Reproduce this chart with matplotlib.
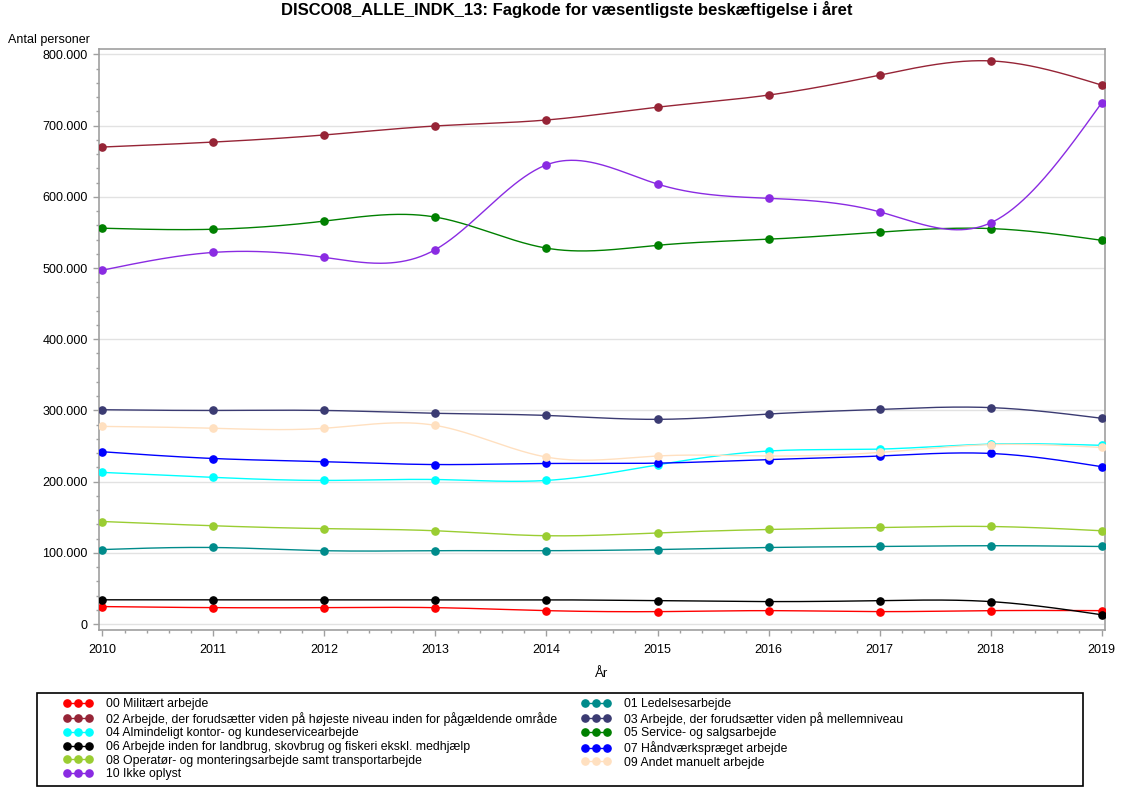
import numpy as np
import matplotlib
matplotlib.use("Agg")
import matplotlib.pyplot as plt
from matplotlib.lines import Line2D
from matplotlib.patches import Rectangle
from matplotlib.ticker import MultipleLocator, FuncFormatter

plt.rcParams['font.family'] = ['Liberation Sans', 'DejaVu Sans']

years = [2010, 2011, 2012, 2013, 2014, 2015, 2016, 2017, 2018, 2019]

labels = [
    "00 Militært arbejde",
    "01 Ledelsesarbejde",
    "02 Arbejde, der forudsætter viden på højeste niveau inden for pågældende område",
    "03 Arbejde, der forudsætter viden på mellemniveau",
    "04 Almindeligt kontor- og kundeservicearbejde",
    "05 Service- og salgsarbejde",
    "06 Arbejde inden for landbrug, skovbrug og fiskeri ekskl. medhjælp",
    "07 Håndværkspræget arbejde",
    "08 Operatør- og monteringsarbejde samt transportarbejde",
    "09 Andet manuelt arbejde",
    "10 Ikke oplyst",
]

colors = ["#FF0000", "#008B8B", "#962436", "#3B3B72", "#00FFFF", "#008000",
          "#000000", "#0000FF", "#9ACD32", "#FFE0C0", "#8A2BE2"]

s00 = [24500, 23000, 23000, 23000, 18800, 17400, 18800, 17400, 18800, 18800]
s01 = [104600, 107500, 103000, 103000, 103000, 104600, 107500, 108900, 110000, 108900]
s02 = [670000, 677000, 687000, 699600, 708000, 726000, 743000, 771000, 791000, 757000]
s03 = [301000, 300000, 300000, 296000, 293000, 287500, 295000, 301500, 304000, 289000]
s04 = [213000, 206000, 201700, 203000, 201700, 223500, 243000, 245700, 252700, 251000]
s05 = [556000, 554500, 566000, 571600, 528000, 532000, 540500, 550500, 555500, 539000]
s06 = [34000, 34000, 34000, 34000, 34000, 32800, 31500, 32800, 31500, 13000]
s07 = [242000, 232500, 228000, 224000, 225500, 226000, 231000, 236000, 239600, 221000]
s08 = [144000, 138000, 134000, 131000, 124000, 128000, 132800, 135600, 137000, 131000]
s09 = [277600, 275000, 275000, 279000, 234500, 236000, 236000, 241000, 252000, 248000]
s10 = [497000, 522000, 515000, 526000, 645000, 618000, 598000, 579000, 563500, 732000]

series = [s00, s01, s02, s03, s04, s05, s06, s07, s08, s09, s10]


def natural_spline(x, y, xs):
    x = np.asarray(x, float)
    y = np.asarray(y, float)
    n = len(x)
    h = np.diff(x)
    A = np.zeros((n, n))
    b = np.zeros(n)
    A[0, 0] = 1.0
    A[-1, -1] = 1.0
    for i in range(1, n - 1):
        A[i, i - 1] = h[i - 1]
        A[i, i] = 2 * (h[i - 1] + h[i])
        A[i, i + 1] = h[i]
        b[i] = 6 * ((y[i + 1] - y[i]) / h[i] - (y[i] - y[i - 1]) / h[i - 1])
    M = np.linalg.solve(A, b)
    idx = np.clip(np.searchsorted(x, xs) - 1, 0, n - 2)
    x0, x1 = x[idx], x[idx + 1]
    hh = x1 - x0
    t0 = x1 - xs
    t1 = xs - x0
    return (M[idx] * t0 ** 3 / (6 * hh) + M[idx + 1] * t1 ** 3 / (6 * hh)
            + (y[idx] / hh - M[idx] * hh / 6) * t0
            + (y[idx + 1] / hh - M[idx + 1] * hh / 6) * t1)


W, H = 1122, 793
fig = plt.figure(figsize=(W / 100, H / 100), dpi=100)
ax = fig.add_axes([99 / W, 1 - 630 / H, (1105 - 99) / W, (630 - 49.3) / H])

xs = np.linspace(years[0], years[-1], 600)
for vals, c in zip(series, colors):
    ax.plot(xs, natural_spline(years, vals, xs), color=c, lw=1.0, zorder=3)
    ax.plot(years, vals, 'o', color=c, ms=5.2, zorder=4)

ax.set_xlim(2009.97, 2019.03)
ax.set_ylim(-8400, 807300)
ax.xaxis.set_major_locator(MultipleLocator(1))
ax.xaxis.set_minor_locator(MultipleLocator(0.2))
ax.yaxis.set_major_locator(MultipleLocator(100000))
ax.yaxis.set_minor_locator(MultipleLocator(20000))
ax.yaxis.set_major_formatter(FuncFormatter(lambda v, p: f"{int(round(v)):,}".replace(",", ".")))
ax.xaxis.set_major_formatter(FuncFormatter(lambda v, p: f"{int(round(v))}"))
ax.grid(axis='y', which='major', color='#e2e2e2', lw=1, zorder=0)
ax.set_axisbelow(True)
for sp in ax.spines.values():
    sp.set_color('#a0a0a0')
    sp.set_linewidth(1.2)
ax.tick_params(which='major', length=4, width=1, color='#a0a0a0', labelsize=9)
ax.tick_params(axis='x', which='major', pad=6)
ax.tick_params(axis='y', which='major', pad=4)
ax.tick_params(which='minor', length=2, width=1, color='#a0a0a0')

fig.text(567 / W, 1 - 10 / H, "DISCO08_ALLE_INDK_13: Fagkode for væsentligste beskæftigelse i året",
         ha='center', va='center', fontsize=12, fontweight='bold')
fig.text(8 / W, 1 - 40.5 / H, "Antal personer", ha='left', va='center', fontsize=9)
fig.text(602 / W, 1 - 674 / H, "År", ha='center', va='center', fontsize=9.5)

# legend frame
fig.patches.append(Rectangle((37 / W, 1 - 786 / H), (1083 - 37) / W, (786 - 693) / H,
                             transform=fig.transFigure, fill=False, edgecolor='black', lw=1.2))

handles = [Line2D([], [], color=c, marker='o', ms=5.2, lw=1.0) for c in colors]
col1 = [0, 2, 4, 6, 8, 10]
col2 = [1, 3, 5, 7, 9]
common = dict(loc='upper left', frameon=False, numpoints=3, fontsize=8.8, borderpad=0,
              borderaxespad=0, handlelength=2.45, handletextpad=1.05, labelspacing=0.14)
fig.legend([handles[i] for i in col1], [labels[i] for i in col1],
           bbox_to_anchor=(63 / W, 1 - 698 / H), **common)
fig.legend([handles[i] for i in col2], [labels[i] for i in col2],
           bbox_to_anchor=(581 / W, 1 - 698 / H), **common)

fig.savefig("out.png", dpi=100)
